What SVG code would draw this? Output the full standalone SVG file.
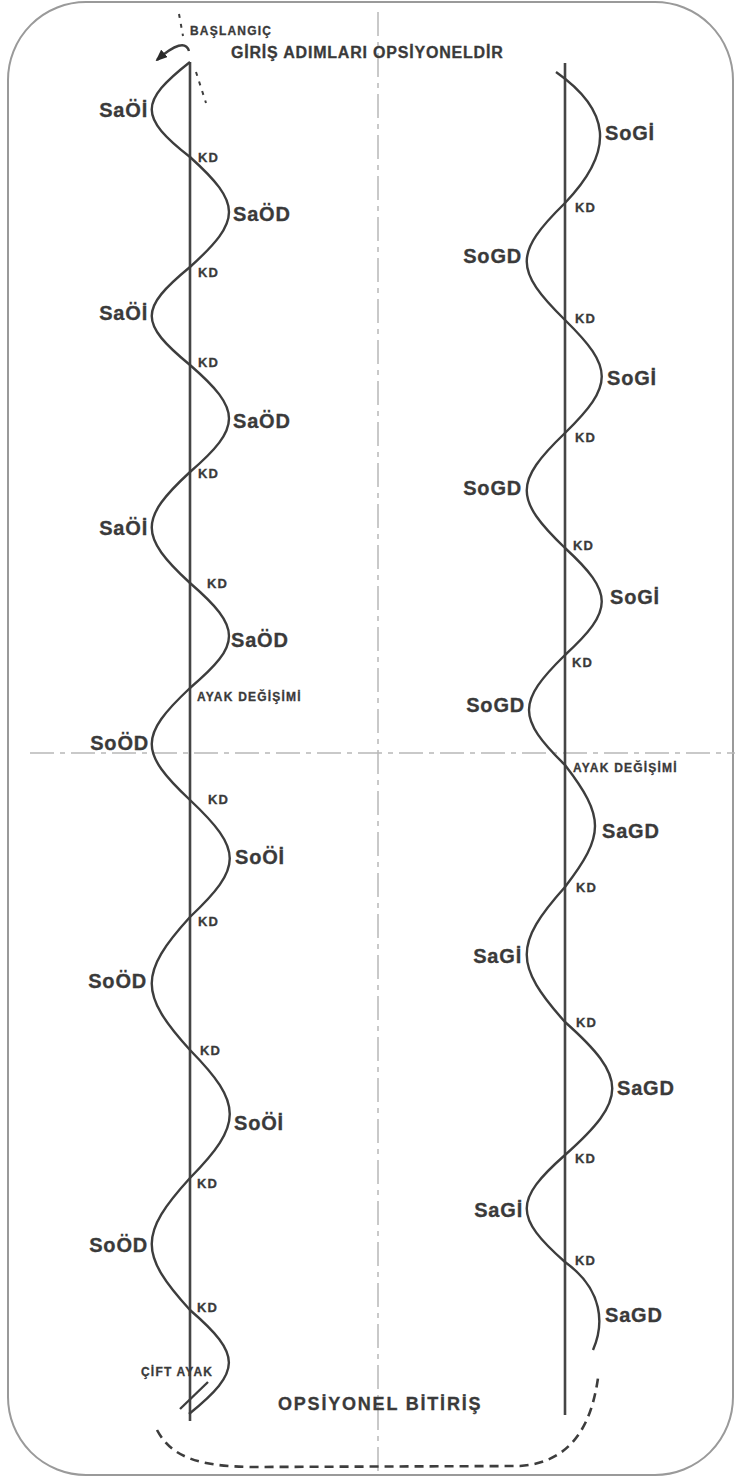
<svg xmlns="http://www.w3.org/2000/svg" width="735" height="1482" viewBox="0 0 735 1482">
<style>
text{font-family:"Liberation Sans",Arial,sans-serif;font-weight:bold;fill:#3a3a3a;stroke:#3a3a3a;stroke-width:0.3}
.lbl{font-size:20px;letter-spacing:0.8px}
.kd{font-size:13px;letter-spacing:1.2px}
.sm{font-size:12px;letter-spacing:1.2px}
.ttl{font-size:16px;letter-spacing:0.8px}
.big{font-size:18px;letter-spacing:1.8px}
.end{text-anchor:end}
.axis{stroke:#454545;stroke-width:2.6;fill:none}
.wave{stroke:#3d3d3d;stroke-width:2.4;fill:none}
.guide{stroke:#b8b8b8;stroke-width:1.5;stroke-dasharray:24 6 5 6;fill:none}
.dash{stroke:#3d3d3d;stroke-width:2.6;stroke-dasharray:9 6;fill:none}
.dot{stroke:#3d3d3d;stroke-width:2;stroke-dasharray:4 6;fill:none}
</style>
<defs>
<marker id="ah" markerWidth="12" markerHeight="10" refX="10" refY="5" orient="auto" markerUnits="userSpaceOnUse"><path d="M0,0 L12,5 L0,10 z" fill="#2a2a2a"/></marker>
</defs>
<rect id="frame" x="8" y="2" width="725" height="1473" rx="78" fill="#fff" stroke="#9a9a9a" stroke-width="2"/>
<g id="guides">
<line class="guide" x1="378" y1="12" x2="378" y2="1474"/>
<line class="guide" x1="30" y1="753" x2="735" y2="753"/>
</g>
<g id="connectors">
<line id="left-axis" class="axis" x1="190" y1="62" x2="190" y2="1421"/>
<line id="right-axis" class="axis" x1="565" y1="63" x2="565" y2="1415"/>
<path id="left-wave" class="wave" d="M190 62 C139 102 139 117 190 157 C242 204 242 220 190 267 C139 309 139 323 190 365 C242 410 242 427 190 472 C139 519 139 536 190 583 C242 628 242 644 190 688 C139 736 139 752 190 800 C243 850 243 867 190 917 C139 973 139 994 190 1050 C243 1104 243 1124 190 1178 C139 1234 139 1254 190 1310 C242 1355 242 1371 189 1414"/>
<path id="right-wave" class="wave" d="M556 72 C610 110 616 150 565 203 C514 253 514 270 565 320 C614 368 614 385 565 433 C514 482 514 499 565 548 C614 593 614 610 565 655 C517 702 517 718 565 765 C605 817 605 835 565 887 C514 944 514 965 565 1022 C628 1078 628 1099 565 1155 C514 1200 514 1217 565 1262 C604 1290 604 1325 593 1350"/>
<path id="start-arrow" class="wave" d="M189 51 C186 41 175 44 157 60" marker-end="url(#ah)"/>
<line class="dot" x1="179" y1="14" x2="183" y2="36"/>
<line class="dot" x1="196" y1="72" x2="206" y2="103"/>
<line id="double-foot" class="wave" x1="180" y1="1409" x2="208" y2="1382"/>
<path id="optional-finish" class="dash" d="M157 1430 C172 1458 200 1466 250 1467 L520 1466 C575 1462 592 1420 598 1378"/>
</g>
<g id="header">
<text class="sm" x="190" y="35">BAŞLANGIÇ</text>
<text class="ttl" x="231" y="58">GİRİŞ ADIMLARI OPSİYONELDİR</text>
</g>
<g id="left-labels">
<g id="l1"><text class="lbl end" x="148" y="117">SaÖİ</text></g>
<g id="l2"><text class="kd" x="198" y="162">KD</text></g>
<g id="l3"><text class="lbl" x="233" y="221">SaÖD</text></g>
<g id="l4"><text class="kd" x="198" y="277">KD</text></g>
<g id="l5"><text class="lbl end" x="148" y="320">SaÖİ</text></g>
<g id="l6"><text class="kd" x="198" y="367">KD</text></g>
<g id="l7"><text class="lbl" x="233" y="428">SaÖD</text></g>
<g id="l8"><text class="kd" x="198" y="478">KD</text></g>
<g id="l9"><text class="lbl end" x="148" y="535">SaÖİ</text></g>
<g id="l10"><text class="kd" x="207" y="588">KD</text></g>
<g id="l11"><text class="lbl" x="231" y="647">SaÖD</text></g>
<g id="l12"><text class="sm" x="197" y="701">AYAK DEĞİŞİMİ</text></g>
<g id="l13"><text class="lbl end" x="149" y="750">SoÖD</text></g>
<g id="l14"><text class="kd" x="208" y="804">KD</text></g>
<g id="l15"><text class="lbl" x="235" y="864">SoÖİ</text></g>
<g id="l16"><text class="kd" x="198" y="926">KD</text></g>
<g id="l17"><text class="lbl end" x="147" y="988">SoÖD</text></g>
<g id="l18"><text class="kd" x="200" y="1055">KD</text></g>
<g id="l19"><text class="lbl" x="234" y="1130">SoÖİ</text></g>
<g id="l20"><text class="kd" x="197" y="1188">KD</text></g>
<g id="l21"><text class="lbl end" x="148" y="1252">SoÖD</text></g>
<g id="l22"><text class="kd" x="197" y="1312">KD</text></g>
<g id="l23"><text class="sm" x="141" y="1376">ÇİFT AYAK</text></g>
</g>
<g id="right-labels">
<g id="r1"><text class="lbl" x="605" y="140">SoGİ</text></g>
<g id="r2"><text class="kd" x="575" y="212">KD</text></g>
<g id="r3"><text class="lbl end" x="522" y="263">SoGD</text></g>
<g id="r4"><text class="kd" x="575" y="323">KD</text></g>
<g id="r5"><text class="lbl" x="607" y="385">SoGİ</text></g>
<g id="r6"><text class="kd" x="575" y="442">KD</text></g>
<g id="r7"><text class="lbl end" x="522" y="495">SoGD</text></g>
<g id="r8"><text class="kd" x="573" y="550">KD</text></g>
<g id="r9"><text class="lbl" x="610" y="604">SoGİ</text></g>
<g id="r10"><text class="kd" x="572" y="667">KD</text></g>
<g id="r11"><text class="lbl end" x="525" y="712">SoGD</text></g>
<g id="r12"><text class="sm" x="573" y="772">AYAK DEĞİŞİMİ</text></g>
<g id="r13"><text class="lbl" x="602" y="838">SaGD</text></g>
<g id="r14"><text class="kd" x="576" y="892">KD</text></g>
<g id="r15"><text class="lbl end" x="522" y="963">SaGİ</text></g>
<g id="r16"><text class="kd" x="576" y="1027">KD</text></g>
<g id="r17"><text class="lbl" x="617" y="1095">SaGD</text></g>
<g id="r18"><text class="kd" x="575" y="1163">KD</text></g>
<g id="r19"><text class="lbl end" x="523" y="1217">SaGİ</text></g>
<g id="r20"><text class="kd" x="575" y="1265">KD</text></g>
<g id="r21"><text class="lbl" x="605" y="1322">SaGD</text></g>
</g>
<g id="footer">
<text class="big" x="278" y="1410">OPSİYONEL BİTİRİŞ</text>
</g>
</svg>
